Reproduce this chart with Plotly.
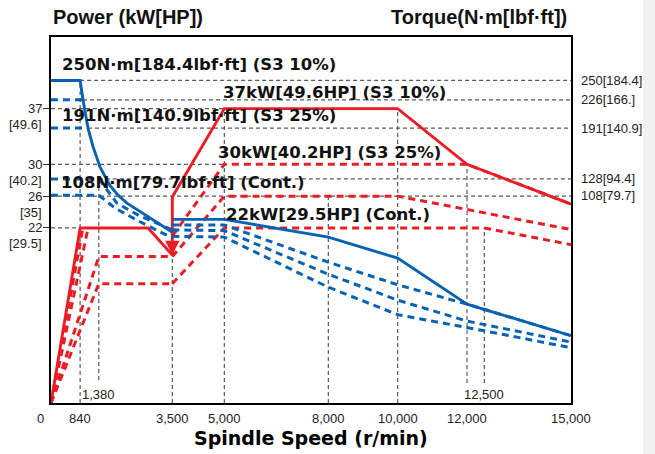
import plotly.graph_objects as go

# ---------------- data ----------------
# Power curves (kW) vs spindle speed (r/min)
spd_p10_low = [0, 840, 2800, 3500]
pwr_p10_low = [0, 22, 22, 18.6]
spd_p10_high = [3500, 3500, 5000, 10000, 12000, 15000]
pwr_p10_high = [18.6, 25.9, 37, 37, 30, 25.0]

spd_pa = [0, 920]
pwr_pa = [0, 22]
spd_pb = [0, 1070]
pwr_pb = [0, 22]
spd_pc = [0, 1380, 3500]
pwr_pc = [0, 18.4, 18.4]
spd_pd = [0, 1380, 3500]
pwr_pd = [0, 15.0, 15.0]
spd_pe = [3500, 5000, 12000, 15000]
pwr_pe = [21.0, 30, 30, 25.0]
spd_pf = [3500, 5000, 10000, 15000]
pwr_pf = [18.4, 26, 26, 21.8]
spd_pg = [3500, 5000, 12500, 15000]
pwr_pg = [15.0, 22, 22, 19.9]

# Torque curves (N·m) vs spindle speed (r/min)
spd_t10_low = [0, 840, 923, 1067, 1212, 1413, 1702, 1933, 2192, 3500]
trq_t10_low = [250, 250, 226, 191, 168, 143, 120, 108, 98, 62]
spd_t10_high = [3500, 5000, 8000, 10000, 12000, 15000]
trq_t10_high = [78, 78, 56, 30, -27, -66]

spd_t226 = [0, 923]
trq_t226 = [226, 226]
spd_t191 = [0, 1067]
trq_t191 = [191, 191]
spd_t128 = [0, 1380, 1904, 2567, 3500]
trq_t128 = [128, 128, 98, 82, 65]
spd_t108 = [0, 1380, 1846, 2567, 3500]
trq_t108 = [108, 108, 92, 75, 55]
spd_h1 = [3500, 5000, 8000, 10000, 12000, 15000]
trq_h1 = [71, 71, 25, -3, -27, -66]
spd_h2 = [3500, 5000, 8000, 10000, 12000, 15000]
trq_h2 = [65, 64, 10, -22, -48, -74]
spd_h3 = [3500, 5000, 8000, 10000, 12500, 15000]
trq_h3 = [57, 56, -6, -40, -60, -81]

# tick labels
x_tick_vals = [0, 840, 3500, 5000, 8000, 10000, 12000, 15000]
x_tick_text = ["0", "840", "3,500", "5,000", "8,000", "10,000", "12,000", "15,000"]
x_inner_vals = [1380, 12500]
x_inner_text = ["1,380", "12,500"]
p_tick_vals = [37, 30, 26, 22]
p_tick_text = ["37", "30", "26", "22"]
p_tick_hp = ["[49.6]", "[40.2]", "[35]", "[29.5]"]
t_tick_vals = [250, 226, 191, 128, 108]
t_tick_text = ["250[184.4]", "226[166.]", "191[140.9]", "128[94.4]", "108[79.7]"]

# ---------------- styling ----------------
RED = "#ec1c24"
BLUE = "#0762b2"
GRID = "#5a5a5a"
P_MAX = 46.0
T_MIN, T_MAX = -149.4, 303.8
L, R, T, B = 51, 84, 37, 51
W, H = 655, 454
PW, PH = W - L - R, H - T - B


def py(p):
    return p / P_MAX


def ty(t):
    return (t - T_MIN) / (T_MAX - T_MIN)


def X(px):
    return (px - L) / PW


def Y(pxy):
    return (H - B - pxy) / PH


fig = go.Figure()


def add(xs, ys, color, dash, axis="y", width=2.8):
    fig.add_trace(go.Scatter(
        x=xs, y=ys, mode="lines", yaxis=axis, hoverinfo="skip", showlegend=False,
        line=dict(color=color, width=width, dash=dash)))


DASH = "7px,5px"
# dashed first
for xs, ys in [(spd_pa, pwr_pa), (spd_pb, pwr_pb), (spd_pc, pwr_pc), (spd_pd, pwr_pd),
               (spd_pe, pwr_pe), (spd_pf, pwr_pf), (spd_pg, pwr_pg)]:
    add(xs, ys, RED, DASH, "y", 3)
for xs, ys in [(spd_t226, trq_t226), (spd_t191, trq_t191), (spd_t128, trq_t128),
               (spd_t108, trq_t108), (spd_h1, trq_h1), (spd_h2, trq_h2), (spd_h3, trq_h3)]:
    add(xs, ys, BLUE, DASH, "y2", 3)
# solid
add(spd_p10_low, pwr_p10_low, RED, "solid", "y", 2.9)
add(spd_p10_high, pwr_p10_high, RED, "solid", "y", 2.9)
add(spd_t10_low, trq_t10_low, BLUE, "solid", "y2", 2.9)
add(spd_t10_high, trq_t10_high, BLUE, "solid", "y2", 2.9)

shapes = []


def hline(x0, x1, yfrac):
    shapes.append(dict(type="line", xref="x", yref="paper", x0=x0, x1=x1, y0=yfrac, y1=yfrac,
                       line=dict(color=GRID, width=1.2, dash="4px,3px"), layer="below"))


def vline(xv, y0, y1):
    shapes.append(dict(type="line", xref="x", yref="paper", x0=xv, x1=xv, y0=y0, y1=y1,
                       line=dict(color=GRID, width=1.2, dash="4px,3px"), layer="below"))


hline(840, 15000, ty(250))
hline(923, 15000, ty(226))
hline(0, 5000, py(37))
hline(1067, 15000, ty(191))
hline(0, 5000, py(30))
hline(1380, 15000, ty(128))
hline(0, 15000, py(26))
hline(0, 840, py(22))

vline(840, 0, ty(250))
vline(1380, Y(380), ty(128))
vline(3500, 0, py(18.4))
vline(5000, 0, py(37))
vline(8000, 0, py(26))
vline(10000, 0, py(37))
vline(12000, Y(383), py(30))
vline(12500, Y(383), py(22))

# light strip at right edge
shapes.append(dict(type="rect", xref="paper", yref="paper", x0=X(643), x1=X(656), y0=Y(456), y1=Y(-2),
                   fillcolor="#f1f1f1", line=dict(width=0), layer="below"))

ann = []
TICKF = dict(family="Liberation Sans, Arial, sans-serif", size=13, color="#222222")
for v, t in zip(x_tick_vals, x_tick_text):
    ann.append(dict(x=v, y=Y(418), xref="x", yref="paper", text=t, showarrow=False,
                    xanchor="center", yanchor="middle", font=TICKF,
                    xshift=-11 if v == 0 else 0))
for v, t in zip(x_inner_vals, x_inner_text):
    ann.append(dict(x=v, y=Y(394), xref="x", yref="paper", text=t, showarrow=False,
                    xanchor="center", yanchor="middle", font=TICKF))
for v, t, hp in zip(p_tick_vals, p_tick_text, p_tick_hp):
    ann.append(dict(x=X(44), y=v, xref="paper", yref="y", text=t, showarrow=False,
                    xanchor="right", yanchor="middle", font=TICKF))
    ann.append(dict(x=X(44), y=v, xref="paper", yref="y", text=hp, showarrow=False,
                    xanchor="right", yanchor="middle", font=TICKF, yshift=-16))
for v, t in zip(t_tick_vals, t_tick_text):
    ann.append(dict(x=X(579), y=v, xref="paper", yref="y2", text=t, showarrow=False,
                    xanchor="left", yanchor="middle", font=TICKF))

TITLEF = dict(family="Liberation Sans, Arial, sans-serif", size=20, color="#111111")
ann.append(dict(x=X(51), y=Y(17), xref="paper", yref="paper", text="<b>Power (kW[HP])</b>",
                showarrow=False, xanchor="left", yanchor="middle", font=TITLEF))
ann.append(dict(x=X(569), y=Y(17), xref="paper", yref="paper", text="<b>Torque(N·m[lbf·ft])</b>",
                showarrow=False, xanchor="right", yanchor="middle", font=TITLEF))
ann.append(dict(x=X(311), y=Y(438), xref="paper", yref="paper", text="<b>Spindle Speed (r/min)</b>",
                showarrow=False, xanchor="center", yanchor="middle",
                font=dict(family="DejaVu Sans, sans-serif", size=19, color="#000000")))

LABF = dict(family="DejaVu Sans, sans-serif", size=16.5, color="#111111")
labels = [
    ("250N·m[184.4lbf·ft] (S3 10%)", 60, 65),
    ("37kW[49.6HP] (S3 10%)", 221, 93),
    ("191N·m[140.9lbf·ft] (S3 25%)", 60, 115),
    ("30kW[40.2HP] (S3 25%)", 216, 152),
    ("108N·m[79.7lbf·ft] (Cont.)", 59, 182),
    ("22kW[29.5HP] (Cont.)", 224, 214),
]
for t, px, pyy in labels:
    ann.append(dict(x=X(px), y=Y(pyy), xref="paper", yref="paper", text="<b>" + t + "</b>",
                    showarrow=False, xanchor="left", yanchor="middle", font=LABF))

# arrow head at the winding switch
ann.append(dict(x=3500, y=18.6, xref="x", yref="y", ax=0, ay=-16, text="", showarrow=True,
                arrowhead=2, arrowsize=1.1, arrowwidth=2.6, arrowcolor=RED))

fig.update_layout(
    width=W, height=H, margin=dict(l=L, r=R, t=T, b=B),
    paper_bgcolor="white", plot_bgcolor="white",
    shapes=shapes, annotations=ann,
    xaxis=dict(range=[0, 15000], showgrid=False, zeroline=False, showline=True, linecolor="black",
               linewidth=2, mirror=True, showticklabels=False, ticks=""),
    yaxis=dict(range=[0, P_MAX], showgrid=False, zeroline=False, showline=True, linecolor="black",
               linewidth=2, mirror=True, showticklabels=False, ticks="outside",
               tickvals=p_tick_vals, ticklen=6, tickcolor="#333333", tickwidth=1),
    yaxis2=dict(range=[T_MIN, T_MAX], overlaying="y", side="right", showgrid=False, zeroline=False,
                showline=False, showticklabels=False, ticks=""),
)

fig.write_html("out.html")
